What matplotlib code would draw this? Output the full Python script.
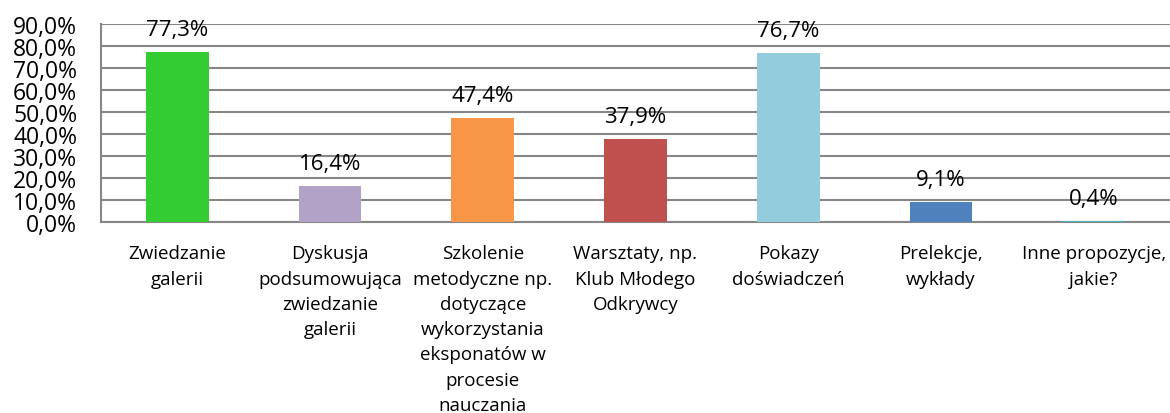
import matplotlib
matplotlib.use("Agg")
import matplotlib.pyplot as plt
from matplotlib.ticker import FuncFormatter

categories = [
    "Zwiedzanie\ngalerii",
    "Dyskusja\npodsumowująca\nzwiedzanie\ngalerii",
    "Szkolenie\nmetodyczne np.\ndotyczące\nwykorzystania\neksponatów w\nprocesie\nnauczania",
    "Warsztaty, np.\nKlub Młodego\nOdkrywcy",
    "Pokazy\ndoświadczeń",
    "Prelekcje,\nwykłady",
    "Inne propozycje,\njakie?",
]
values = [77.3, 16.4, 47.4, 37.9, 76.7, 9.1, 0.4]
colors = ["#33CC33", "#B3A2C7", "#F79646", "#C0504D", "#93CDDD", "#4F81BD", "#4BACC6"]

plt.rcParams['font.family'] = ['Open Sans', 'DejaVu Sans']

fig = plt.figure(figsize=(11.7, 4.14), dpi=100)
ax = fig.add_axes([0.0863, 0.461, 0.9137, 0.479])

x = list(range(len(values)))
ax.bar(x, values, width=0.41, color=colors, zorder=3)

for xi, v in zip(x, values):
    ax.text(xi, v + 5.5, f"{v:.1f}%".replace(".", ","), ha="center",
            va="bottom", fontsize=16, color="#000000", zorder=4)

ax.set_xlim(-0.5, len(values) - 0.5)
ax.set_ylim(0, 90)
ax.set_yticks(range(0, 91, 10))
ax.yaxis.set_major_formatter(FuncFormatter(lambda v, p: f"{v:.1f}%".replace(".", ",")))
ax.tick_params(axis="y", labelsize=16.5, length=0, pad=17)
ax.set_xticks(x)
ax.set_xticklabels(categories, fontsize=13.5, linespacing=1.52, va="top")
ax.tick_params(axis="x", length=0, pad=16)

ax.grid(axis="y", color="#868686", linewidth=1.5, zorder=0)
for s in ["top", "right"]:
    ax.spines[s].set_visible(False)
for s in ["left", "bottom"]:
    ax.spines[s].set_color("#868686")
    ax.spines[s].set_linewidth(1.5)

fig.savefig("out.png", dpi=100)
